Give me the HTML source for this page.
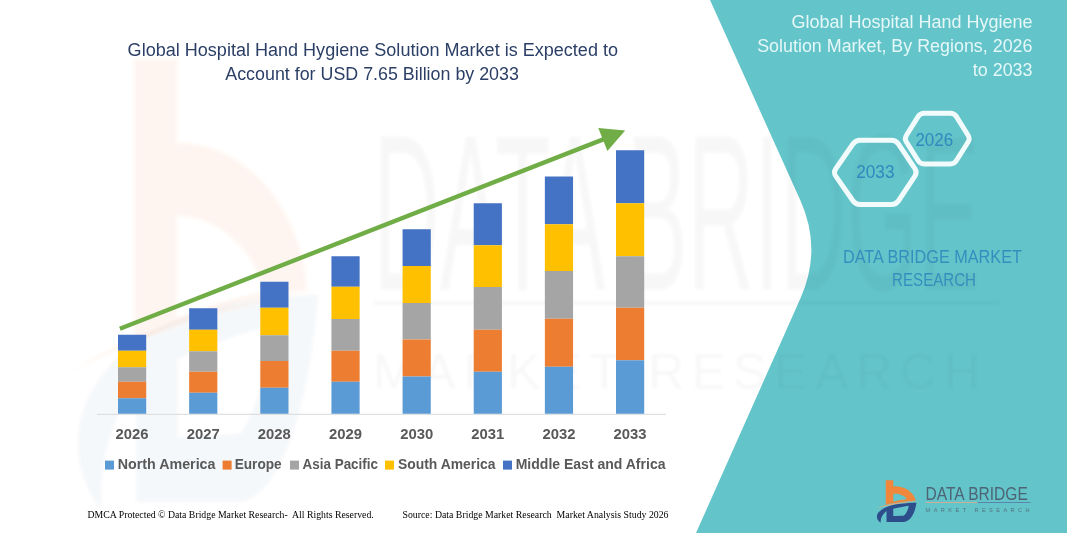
<!DOCTYPE html>
<html lang="en">
<head>
<meta charset="utf-8">
<title>Global Hospital Hand Hygiene Solution Market</title>
<style>
html,body{margin:0;padding:0;background:#fff;}
body{width:1067px;height:533px;overflow:hidden;font-family:"Liberation Sans",sans-serif;}
svg{display:block;}
.t{font-family:"Liberation Sans",sans-serif;}
.s{font-family:"Liberation Serif",serif;}
</style>
</head>
<body>
<svg width="1067" height="533" viewBox="0 0 1067 533">
<defs><filter id="bl" x="-5%" y="-5%" width="110%" height="110%"><feGaussianBlur stdDeviation="1.5"/></filter></defs>
<rect width="1067" height="533" fill="#ffffff"/>
<!-- teal panel -->
<path d="M710,0 L800.2,200 Q822.3,249 800.6,298 L696,533 L1067,533 L1067,0 Z" fill="#63C5CA"/>
<!-- watermark -->
<g filter="url(#bl)">
<path d="M134,59 H177 V143 C237,140 301,200 307,290 C240,298 172,320 134,345 Z M177,216 C217,216 256,250 263,292 C231,298 202,308 177,318 Z" fill="#ED7D31" fill-rule="evenodd" opacity="0.075"/>
<path d="M73,372 C130,330 230,300 320,290 C230,306 140,335 73,372 Z" fill="#ED7D31" opacity="0.05"/>
<g transform="translate(24.4,-35.6) scale(0.66,1.168)">
<path d="M445,283 C300,283 160,305 100,368 C68,402 80,442 117,467 C112,425 135,385 170,358 L170,460 L330,460 C395,450 432,370 445,283 Z M232,338 C290,323 340,314 374,309 C367,350 352,385 326,402 L232,405 Z" fill="#2D4D8B" fill-rule="evenodd" opacity="0.04"/>
</g>
</g>
<g class="t" fill="#000" opacity="0.028" filter="url(#bl)">
<text x="373" y="290" font-size="222" textLength="607" lengthAdjust="spacingAndGlyphs">DATA BRIDGE</text>
<rect x="373" y="301" width="627" height="4"/>
<text x="373" y="389" font-size="50" textLength="607" lengthAdjust="spacing">MARKET RESEARCH</text>
</g>
<!-- axis -->
<rect x="97" y="413.8" width="569" height="1" fill="#D9D9D9"/>
<!-- bars -->
<rect x="118.00" y="334.75" width="28.2" height="16.00" fill="#4472C4"/>
<rect x="118.00" y="350.75" width="28.2" height="16.50" fill="#FFC000"/>
<rect x="118.00" y="367.25" width="28.2" height="14.50" fill="#A5A5A5"/>
<rect x="118.00" y="381.75" width="28.2" height="16.50" fill="#ED7D31"/>
<rect x="118.00" y="398.25" width="28.2" height="15.50" fill="#5B9BD5"/>
<rect x="189.14" y="308.25" width="28.2" height="21.50" fill="#4472C4"/>
<rect x="189.14" y="329.75" width="28.2" height="21.50" fill="#FFC000"/>
<rect x="189.14" y="351.25" width="28.2" height="20.50" fill="#A5A5A5"/>
<rect x="189.14" y="371.75" width="28.2" height="21.00" fill="#ED7D31"/>
<rect x="189.14" y="392.75" width="28.2" height="21.00" fill="#5B9BD5"/>
<rect x="260.29" y="281.75" width="28.2" height="26.00" fill="#4472C4"/>
<rect x="260.29" y="307.75" width="28.2" height="27.50" fill="#FFC000"/>
<rect x="260.29" y="335.25" width="28.2" height="25.75" fill="#A5A5A5"/>
<rect x="260.29" y="361.00" width="28.2" height="26.75" fill="#ED7D31"/>
<rect x="260.29" y="387.75" width="28.2" height="26.00" fill="#5B9BD5"/>
<rect x="331.43" y="256.25" width="28.2" height="30.50" fill="#4472C4"/>
<rect x="331.43" y="286.75" width="28.2" height="32.25" fill="#FFC000"/>
<rect x="331.43" y="319.00" width="28.2" height="31.75" fill="#A5A5A5"/>
<rect x="331.43" y="350.75" width="28.2" height="31.00" fill="#ED7D31"/>
<rect x="331.43" y="381.75" width="28.2" height="32.00" fill="#5B9BD5"/>
<rect x="402.57" y="229.25" width="28.2" height="36.75" fill="#4472C4"/>
<rect x="402.57" y="266.00" width="28.2" height="37.00" fill="#FFC000"/>
<rect x="402.57" y="303.00" width="28.2" height="36.50" fill="#A5A5A5"/>
<rect x="402.57" y="339.50" width="28.2" height="37.00" fill="#ED7D31"/>
<rect x="402.57" y="376.50" width="28.2" height="37.25" fill="#5B9BD5"/>
<rect x="473.71" y="203.25" width="28.2" height="42.00" fill="#4472C4"/>
<rect x="473.71" y="245.25" width="28.2" height="41.75" fill="#FFC000"/>
<rect x="473.71" y="287.00" width="28.2" height="42.75" fill="#A5A5A5"/>
<rect x="473.71" y="329.75" width="28.2" height="42.00" fill="#ED7D31"/>
<rect x="473.71" y="371.75" width="28.2" height="42.00" fill="#5B9BD5"/>
<rect x="544.86" y="176.50" width="28.2" height="47.75" fill="#4472C4"/>
<rect x="544.86" y="224.25" width="28.2" height="46.75" fill="#FFC000"/>
<rect x="544.86" y="271.00" width="28.2" height="47.75" fill="#A5A5A5"/>
<rect x="544.86" y="318.75" width="28.2" height="48.00" fill="#ED7D31"/>
<rect x="544.86" y="366.75" width="28.2" height="47.00" fill="#5B9BD5"/>
<rect x="616.00" y="150.25" width="28.2" height="53.00" fill="#4472C4"/>
<rect x="616.00" y="203.25" width="28.2" height="53.00" fill="#FFC000"/>
<rect x="616.00" y="256.25" width="28.2" height="51.50" fill="#A5A5A5"/>
<rect x="616.00" y="307.75" width="28.2" height="52.50" fill="#ED7D31"/>
<rect x="616.00" y="360.25" width="28.2" height="53.50" fill="#5B9BD5"/>
<!-- arrow -->
<line x1="119.9" y1="328.7" x2="604.5" y2="138.9" stroke="#70AD47" stroke-width="4.4"/>
<polygon points="625.2,130.5 598.3,128.1 607.4,150.9" fill="#70AD47"/>
<!-- year labels -->
<g class="t" font-size="14" font-weight="bold" fill="#595959">
<text x="132.10" y="439.3" text-anchor="middle" textLength="33" lengthAdjust="spacingAndGlyphs">2026</text>
<text x="203.24" y="439.3" text-anchor="middle" textLength="33" lengthAdjust="spacingAndGlyphs">2027</text>
<text x="274.39" y="439.3" text-anchor="middle" textLength="33" lengthAdjust="spacingAndGlyphs">2028</text>
<text x="345.53" y="439.3" text-anchor="middle" textLength="33" lengthAdjust="spacingAndGlyphs">2029</text>
<text x="416.67" y="439.3" text-anchor="middle" textLength="33" lengthAdjust="spacingAndGlyphs">2030</text>
<text x="487.81" y="439.3" text-anchor="middle" textLength="33" lengthAdjust="spacingAndGlyphs">2031</text>
<text x="558.96" y="439.3" text-anchor="middle" textLength="33" lengthAdjust="spacingAndGlyphs">2032</text>
<text x="630.10" y="439.3" text-anchor="middle" textLength="33" lengthAdjust="spacingAndGlyphs">2033</text>
</g>
<!-- legend -->
<rect x="105" y="460.6" width="9" height="9" fill="#5B9BD5"/>
<rect x="222.6" y="460.6" width="9" height="9" fill="#ED7D31"/>
<rect x="290" y="460.6" width="9" height="9" fill="#A5A5A5"/>
<rect x="385" y="460.6" width="9" height="9" fill="#FFC000"/>
<rect x="503" y="460.6" width="9" height="9" fill="#4472C4"/>
<g class="t" font-size="13.8" font-weight="bold" fill="#595959">
<text x="117.7" y="468.5" textLength="97.8" lengthAdjust="spacingAndGlyphs">North America</text>
<text x="234.7" y="468.5" textLength="47" lengthAdjust="spacingAndGlyphs">Europe</text>
<text x="302.6" y="468.5" textLength="75.4" lengthAdjust="spacingAndGlyphs">Asia Pacific</text>
<text x="398" y="468.5" textLength="97.5" lengthAdjust="spacingAndGlyphs">South America</text>
<text x="515.7" y="468.5" textLength="149.8" lengthAdjust="spacingAndGlyphs">Middle East and Africa</text>
</g>
<!-- title -->
<g class="t" font-size="18" fill="#2B3F66">
<text x="127.6" y="56" textLength="490.4" lengthAdjust="spacingAndGlyphs">Global Hospital Hand Hygiene Solution Market is Expected to</text>
<text x="225.3" y="79.5" textLength="293.6" lengthAdjust="spacingAndGlyphs">Account for USD 7.65 Billion by 2033</text>
</g>
<!-- footer -->
<g class="s" font-size="10" fill="#000">
<text x="87.5" y="517.5" textLength="286.25" lengthAdjust="spacingAndGlyphs" xml:space="preserve">DMCA Protected © Data Bridge Market Research-  All Rights Reserved.</text>
<text x="402.5" y="517.5" textLength="266" lengthAdjust="spacingAndGlyphs" xml:space="preserve">Source: Data Bridge Market Research  Market Analysis Study 2026</text>
</g>
<!-- right panel title -->
<g class="t" font-size="17.5" fill="#E6F7F8">
<text x="791.5" y="27.6" textLength="241" lengthAdjust="spacingAndGlyphs">Global Hospital Hand Hygiene</text>
<text x="757.2" y="51.5" textLength="275.3" lengthAdjust="spacingAndGlyphs">Solution Market, By Regions, 2026</text>
<text x="972.8" y="75.7" textLength="59.7" lengthAdjust="spacingAndGlyphs">to 2033</text>
</g>
<!-- hexagons -->
<g fill="none" stroke="#F2FBFB" stroke-width="5" stroke-linejoin="round">
<path d="M835.77,176.10 Q833.20,172.40 835.77,168.70 L852.93,144.00 Q855.50,140.30 860.00,140.30 L891.50,140.30 Q896.00,140.30 898.50,144.04 L914.90,168.66 Q917.40,172.40 914.90,176.14 L898.50,200.76 Q896.00,204.50 891.50,204.50 L860.00,204.50 Q855.50,204.50 852.93,200.80 Z"/>
<path d="M906.43,141.99 Q904.30,138.60 906.43,135.21 L918.07,116.69 Q920.20,113.30 924.20,113.30 L950.30,113.30 Q954.30,113.30 956.43,116.69 L968.07,135.21 Q970.20,138.60 968.07,141.99 L956.43,160.51 Q954.30,163.90 950.30,163.90 L924.20,163.90 Q920.20,163.90 918.07,160.51 Z"/>
</g>
<g class="t" font-size="17.8" fill="#3089BE">
<text x="856.2" y="177.7" textLength="38.3" lengthAdjust="spacingAndGlyphs">2033</text>
<text x="915.4" y="145.7" textLength="37.8" lengthAdjust="spacingAndGlyphs">2026</text>
</g>
<g class="t" font-size="17.5" fill="#358FBE">
<text x="843" y="262.6" textLength="178.9" lengthAdjust="spacingAndGlyphs">DATA BRIDGE MARKET</text>
<text x="892.1" y="286.2" textLength="83.9" lengthAdjust="spacingAndGlyphs">RESEARCH</text>
</g>
<!-- logo -->
<g>
<g transform="translate(868,472) scale(0.10893)">
<path d="M85,328 C180,290 330,268 462,268 C330,278 200,300 85,328 Z" fill="#F3A56C"/>
<path d="M163,75 H232 V132 C320,125 410,170 440,262 C380,266 250,280 163,300 Z M232,200 C290,198 340,215 355,250 C310,255 260,265 232,272 Z" fill="#F0873B" fill-rule="evenodd"/>
<path d="M445,283 C300,283 160,305 100,368 C68,402 80,442 117,467 C112,425 135,385 170,358 L170,460 L330,460 C395,450 432,370 445,283 Z M232,338 C290,323 340,314 374,309 C367,350 352,385 326,402 L232,405 Z" fill="#2D4D8B" fill-rule="evenodd"/>
</g>
<g class="t" fill="#4C6474">
<text x="925.6" y="499.7" font-size="18.3" textLength="102.2" lengthAdjust="spacingAndGlyphs">DATA BRIDGE</text>
<text x="925.6" y="511.5" font-size="5.6" textLength="104" lengthAdjust="spacing" fill="#557383">MARKET RESEARCH</text>
</g>
<rect x="925.6" y="502" width="52" height="1" fill="#CDAF96"/>
<rect x="977.6" y="502" width="53" height="1" fill="#5A86AE"/>
</g>
</svg>
</body>
</html>
